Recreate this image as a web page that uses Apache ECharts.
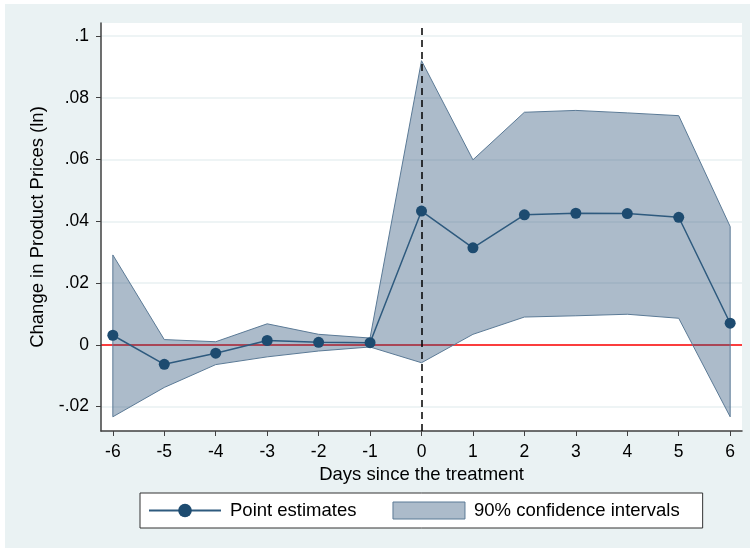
<!DOCTYPE html>
<html>
<head>
<meta charset="utf-8">
<script src="https://cdn.jsdelivr.net/npm/echarts@6/dist/echarts.min.js"></script>
<style>
  html, body { margin: 0; padding: 0; background: #ffffff; }
  #chart { width: 750px; height: 551px; }
</style>
</head>
<body>
<div id="chart"></div>
<script>
// Event-study estimates: days relative to treatment
const days = [-6, -5, -4, -3, -2, -1, 0, 1, 2, 3, 4, 5, 6];
const pointEstimates = [0.0031, -0.0063, -0.0027, 0.0014, 0.0008, 0.0007, 0.0433, 0.0314, 0.0421, 0.0426, 0.0425, 0.0413, 0.0070];
const ciUpper = [0.0291, 0.0017, 0.0010, 0.0068, 0.0034, 0.0022, 0.0920, 0.0599, 0.0753, 0.0759, 0.0751, 0.0742, 0.0383];
const ciLower = [-0.0233, -0.0138, -0.0064, -0.0039, -0.0020, -0.0007, -0.0058, 0.0034, 0.0090, 0.0094, 0.0099, 0.0086, -0.0233];
const yTicks = [-0.02, 0, 0.02, 0.04, 0.06, 0.08, 0.1];
const xTicks = days;

const FONT = 'Liberation Sans, Arial, sans-serif';

function fmtY(v) {
  if (Math.abs(v) < 1e-9) return '0';
  const s = String(+v.toFixed(2));
  return s.replace('0.', '.');
}

const chart = echarts.init(document.getElementById('chart'), null, { renderer: 'canvas' });

const option = {
  animation: false,
  backgroundColor: '#ffffff',
  graphic: [{
    type: 'rect', z: -10, silent: true,
    shape: { x: 5, y: 4, width: 745, height: 544 },
    style: { fill: '#eaf2f3' }
  }],
  grid: { left: 101, top: 23, right: 8, bottom: 120, show: true, backgroundColor: '#ffffff', borderWidth: 0 },
  xAxis: {
    type: 'value', min: -6.23, max: 6.23,
    name: 'Days since the treatment', nameLocation: 'middle', nameGap: 31,
    nameTextStyle: { fontFamily: FONT, fontSize: 18.5, color: '#000' },
    axisLine: { onZero: false, lineStyle: { color: '#404040', width: 1.5 } },
    axisTick: { customValues: xTicks, length: 5, lineStyle: { color: '#404040', width: 1 } },
    axisLabel: { customValues: xTicks, fontFamily: FONT, fontSize: 17.5, color: '#000', margin: 12 },
    splitLine: { show: false }
  },
  yAxis: {
    type: 'value', min: -0.0279, max: 0.1042,
    name: 'Change in Product Prices (ln)', nameLocation: 'middle', nameGap: 54, nameRotate: 90,
    nameTextStyle: { fontFamily: FONT, fontSize: 18.5, color: '#000' },
    axisLine: { show: true, onZero: false, lineStyle: { color: '#404040', width: 1.5 } },
    axisTick: { show: true, customValues: yTicks, length: 5, lineStyle: { color: '#404040', width: 1 } },
    axisLabel: { customValues: yTicks, fontFamily: FONT, fontSize: 17.5, color: '#000', margin: 12, formatter: fmtY },
    splitLine: { show: false }
  },
  legend: {
    left: 140, top: 493,
    padding: [8, 23, 8, 8],
    itemGap: 36,
    itemWidth: 72, itemHeight: 17,
    backgroundColor: '#ffffff',
    borderColor: '#333333', borderWidth: 1,
    textStyle: { fontFamily: FONT, fontSize: 18.5, color: '#000', padding: [0, 0, 0, 4] },
    data: [
      { name: 'Point estimates' },
      { name: '90% confidence intervals', icon: 'rect',
        itemStyle: { color: 'rgba(47,85,123,0.4)', borderColor: '#5b7a96', borderWidth: 1 } }
    ]
  },
  series: [
    {
      // gridlines and the zero reference line, kept beneath the band
      type: 'line', data: [], silent: true, z: 0,
      markLine: {
        silent: true, symbol: 'none', label: { show: false }, z: 0,
        data: yTicks.map(v => ({ yAxis: v, lineStyle: { color: '#e8f0f2', width: 1.5, type: 'solid' } }))
          .concat([{ yAxis: 0, lineStyle: { color: '#ff0000', width: 1.5, type: 'solid' } }])
      }
    },
    {
      name: '90% confidence intervals',
      type: 'custom', z: 2,
      data: days.map((d, i) => [d, ciLower[i], ciUpper[i]]),
      encode: { x: 0, y: [1, 2] },
      renderItem: function (params, api) {
        if (params.dataIndex !== 0) return null;
        const upperPts = days.map((d, i) => api.coord([d, ciUpper[i]]));
        const lowerPts = days.map((d, i) => api.coord([d, ciLower[i]])).reverse();
        return {
          type: 'polygon',
          shape: { points: upperPts.concat(lowerPts) },
          style: { fill: 'rgba(47,85,123,0.4)', stroke: '#5b7a96', lineWidth: 1 }
        };
      },
      itemStyle: { color: 'rgba(47,85,123,0.4)', borderColor: '#5b7a96' }
    },
    {
      // treatment day marker
      type: 'line', data: [], silent: true, z: 5,
      markLine: {
        silent: true, symbol: 'none', label: { show: false }, z: 5,
        data: [{ xAxis: 0, lineStyle: { color: '#000000', width: 1.5, type: [7, 5] } }]
      }
    },
    {
      name: 'Point estimates',
      type: 'line', z: 8,
      data: days.map((d, i) => [d, pointEstimates[i]]),
      symbol: 'circle', symbolSize: 11,
      lineStyle: { color: '#2e5a7e', width: 1.5 },
      itemStyle: { color: '#1d4b70' }
    }
  ]
};

chart.setOption(option);
</script>
</body>
</html>
